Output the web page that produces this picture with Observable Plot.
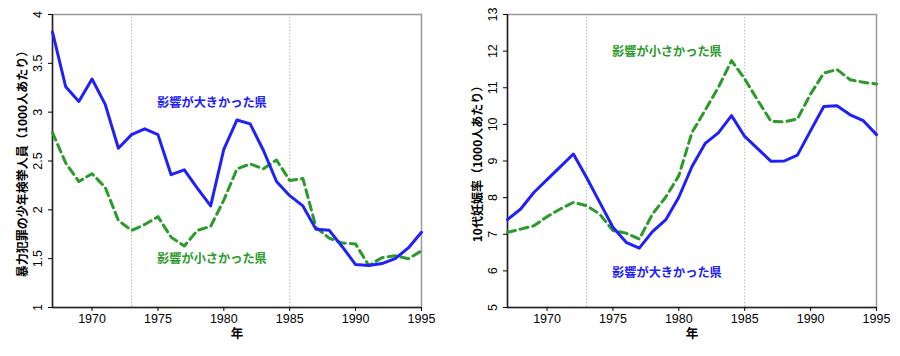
<!DOCTYPE html>
<html><head><meta charset="utf-8">
<script src="https://cdn.jsdelivr.net/npm/d3@7"></script>
<script src="https://cdn.jsdelivr.net/npm/@observablehq/plot@0.6"></script>
<style>body{margin:0;background:#fff} #wrap{display:flex;width:900px;height:356px}</style>
</head><body><div id="wrap"></div>
<script>
const years = [1967,1968,1969,1970,1971,1972,1973,1974,1975,1976,1977,1978,1979,1980,1981,1982,1983,1984,1985,1986,1987,1988,1989,1990,1991,1992,1993,1994,1995];
// 暴力犯罪の少年検挙人員
const crimeHigh = [3.82,3.26,3.11,3.34,3.08,2.63,2.77,2.83,2.77,2.36,2.41,2.22,2.04,2.62,2.92,2.88,2.61,2.29,2.145,2.04,1.80,1.79,1.62,1.44,1.43,1.45,1.50,1.61,1.77];
const crimeLow  = [2.79,2.48,2.29,2.37,2.23,1.89,1.79,1.85,1.93,1.72,1.63,1.79,1.83,2.10,2.42,2.47,2.42,2.51,2.30,2.32,1.82,1.71,1.66,1.65,1.43,1.51,1.53,1.50,1.58];
// 10代妊娠率
const pregHigh = [7.40,7.69,8.14,8.49,8.84,9.19,8.55,7.87,7.19,6.78,6.62,7.07,7.39,8.01,8.85,9.48,9.77,10.24,9.67,9.33,8.99,9.00,9.16,9.83,10.49,10.51,10.26,10.10,9.72];
const pregLow  = [7.05,7.14,7.23,7.48,7.69,7.87,7.78,7.55,7.10,7.03,6.87,7.55,8.01,8.60,9.78,10.39,11.01,11.74,11.24,10.65,10.08,10.07,10.15,10.83,11.40,11.50,11.22,11.15,11.10];
const crimeTicks = [1,1.5,2,2.5,3,3.5,4];
const pregTicks = [5,6,7,8,9,10,11,12,13];
const xTicks = [1970,1975,1980,1985,1990,1995];
const markYears = [1973,1985];
const labelHigh = "影響が大きかった県";
const labelLow = "影響が小さかった県";
const xLabel = "年";
const crimeLabel = "暴力犯罪の少年検挙人員（1000人あたり）";
const pregLabel = "10代妊娠率（1000人あたり）";

const BLUE = "#2020f8", GREEN = "#2a9a2a";
const FONT = "'Liberation Sans', Arial, 'Noto Sans CJK JP', sans-serif";
const CJK = "'Noto Sans CJK JP', 'Liberation Sans', sans-serif";

function panel(o) {
  return Plot.plot({
    width: 450, height: 356,
    marginLeft: o.ml, marginRight: o.mr, marginTop: 14, marginBottom: 49,
    style: {fontFamily: FONT, fontSize: "12.5px", background: "white", overflow: "visible"},
    x: {domain: [1967, 1995]},
    y: {domain: o.yDomain},
    marks: [
      Plot.ruleX(markYears, {stroke: "#aaa", strokeDasharray: "1.2,2"}),
      Plot.frame({stroke: "#999", strokeWidth: 1.5}),
      Plot.ruleX([1967], {stroke: "#222", strokeWidth: 1.5}),
      Plot.ruleY([o.yDomain[0]], {stroke: "#222", strokeWidth: 1.5}),
      Plot.axisY({ticks: o.yTicks, tickSize: 4, tickFormat: () => ""}),
      Plot.text(o.yTicks, {y: d => d, frameAnchor: "left", dx: -15, rotate: -90, textAnchor: "middle", lineAnchor: "middle", text: d => String(d), fontSize: 12.5}),
      Plot.axisX({ticks: xTicks, tickFormat: "d", tickSize: 4, tickPadding: 3, fontSize: 12.5}),
      Plot.text([xLabel], {frameAnchor: "bottom", dy: 26, textAnchor: "middle", lineAnchor: "middle", fontFamily: CJK, fontWeight: "bold", fontSize: 12.5}),
      Plot.text([o.yLabel], {frameAnchor: "left", dx: -29, rotate: -90, textAnchor: "middle", lineAnchor: "middle", fontFamily: CJK, fontWeight: "bold", fontSize: 12}),
      Plot.line(years, {x: years, y: o.low, stroke: GREEN, strokeWidth: 3, strokeDasharray: "8,5", strokeLinejoin: "round"}),
      Plot.line(years, {x: years, y: o.high, stroke: BLUE, strokeWidth: 3, strokeLinejoin: "round"}),
      Plot.text([labelHigh], {x: [o.highPos[0]], y: [o.highPos[1]], fill: BLUE, fontFamily: CJK, fontWeight: "bold", fontSize: 12.2}),
      Plot.text([labelLow], {x: [o.lowPos[0]], y: [o.lowPos[1]], fill: GREEN, fontFamily: CJK, fontWeight: "bold", fontSize: 12.2})
    ]
  });
}

const wrap = document.getElementById("wrap");
wrap.append(panel({ml: 52, mr: 29, yDomain: [1, 4], yTicks: crimeTicks, yLabel: crimeLabel,
  high: crimeHigh, low: crimeLow, highPos: [1979.1, 3.09], lowPos: [1979.1, 1.50]}));
wrap.append(panel({ml: 57, mr: 24, yDomain: [5, 13], yTicks: pregTicks, yLabel: pregLabel,
  high: pregHigh, low: pregLow, highPos: [1979.1, 5.95], lowPos: [1979.1, 11.96]}));
</script>
</body></html>
